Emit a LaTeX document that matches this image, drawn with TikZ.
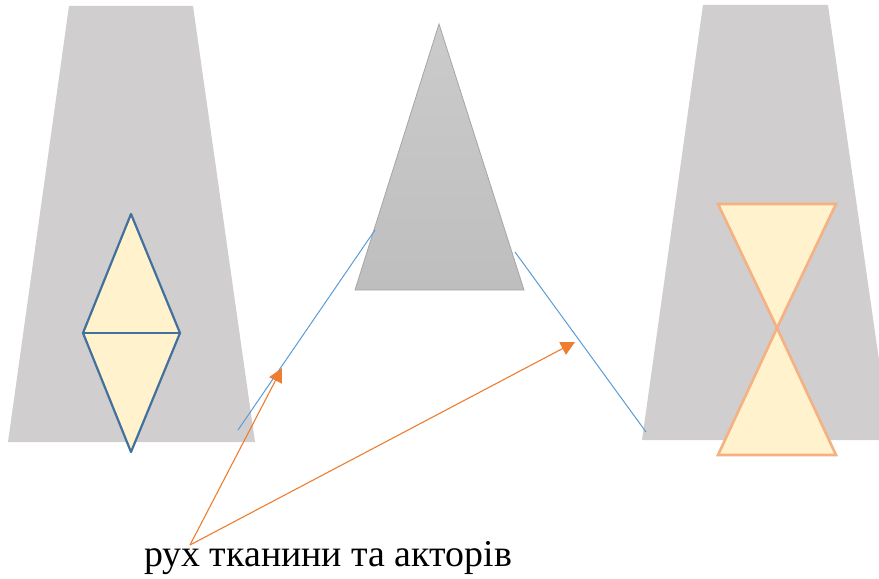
\documentclass[tikz,border=0pt]{standalone}
\usepackage{fontspec}
\setmainfont{Liberation Serif}
\newfontfamily\captionfont{Liberation Serif}
\usetikzlibrary{arrows.meta}
\definecolor{clothgray}{HTML}{D0CECF}
\definecolor{cream}{HTML}{FFF2CC}
\definecolor{steelblue}{HTML}{41719C}
\definecolor{peach}{HTML}{F4B183}
\definecolor{lineblue}{HTML}{5B9BD5}
\definecolor{arroworange}{HTML}{ED7D31}
\definecolor{conetop}{HTML}{CBCBCB}
\definecolor{conebottom}{HTML}{BEBEBE}
\definecolor{coneedge}{HTML}{A6A6A6}
\tikzset{
  cloth/.style={fill=clothgray, draw=none},
  figblue/.style={fill=cream, draw=steelblue, line width=2.2bp, line join=round},
  figpeach/.style={fill=cream, draw=peach, line width=2.6bp, line join=miter},
  thread/.style={draw=lineblue, line width=1bp},
  motion/.style={draw=arroworange, line width=1.1bp, -{Triangle[length=14bp,width=14bp]}},
  caption/.style={font=\captionfont\fontsize{38}{40}\selectfont, anchor=base west, inner sep=0pt}
}
\begin{document}
\begin{tikzpicture}[x=1bp,y=-1bp]
\useasboundingbox (0,0) rectangle (879,579);
% side cloths
\fill[cloth] (69,6) -- (193,6) -- (255,442) -- (8,442) -- cycle;
\fill[cloth] (703,5) -- (828,5) -- (879,360) -- (879,440) -- (642,440) -- cycle;
% central cone
\shade[top color=conetop, bottom color=conebottom, draw=coneedge, line width=0.8bp]
  (439,24) -- (524,290) -- (355,290) -- cycle;
% diamond figure on the left
\coordinate (dt) at (131,214);
\coordinate (dl) at (83,333);
\coordinate (dr) at (180,333);
\coordinate (db) at (131,452);
\filldraw[figblue] (dt) -- (dr) -- (db) -- (dl) -- cycle;
\draw[figblue, fill=none] (dl) -- (dr);
% hourglass figure on the right
\coordinate (ha) at (718,204);
\coordinate (hb) at (836,204);
\coordinate (hc) at (777,328);
\coordinate (hd) at (718,455);
\coordinate (he) at (836,455);
\filldraw[figpeach] (ha) -- (hb) -- (hc) -- cycle;
\filldraw[figpeach] (hc) -- (he) -- (hd) -- cycle;
% threads
\coordinate (l1) at (238,430);
\coordinate (l2) at (375,230);
\coordinate (r1) at (515,252);
\coordinate (r2) at (646,432);
\draw[thread] (l1) -- (l2);
\draw[thread] (r1) -- (r2);
% caption and arrows
\node[caption] (cap) at (144,566) {рух тканини та акторів};
\coordinate (src) at (190,545);
\coordinate (tipa) at (282,368);
\coordinate (tipb) at (575,342);
\draw[motion] (src) -- (tipa);
\draw[motion] (src) -- (tipb);
\end{tikzpicture}
\end{document}
